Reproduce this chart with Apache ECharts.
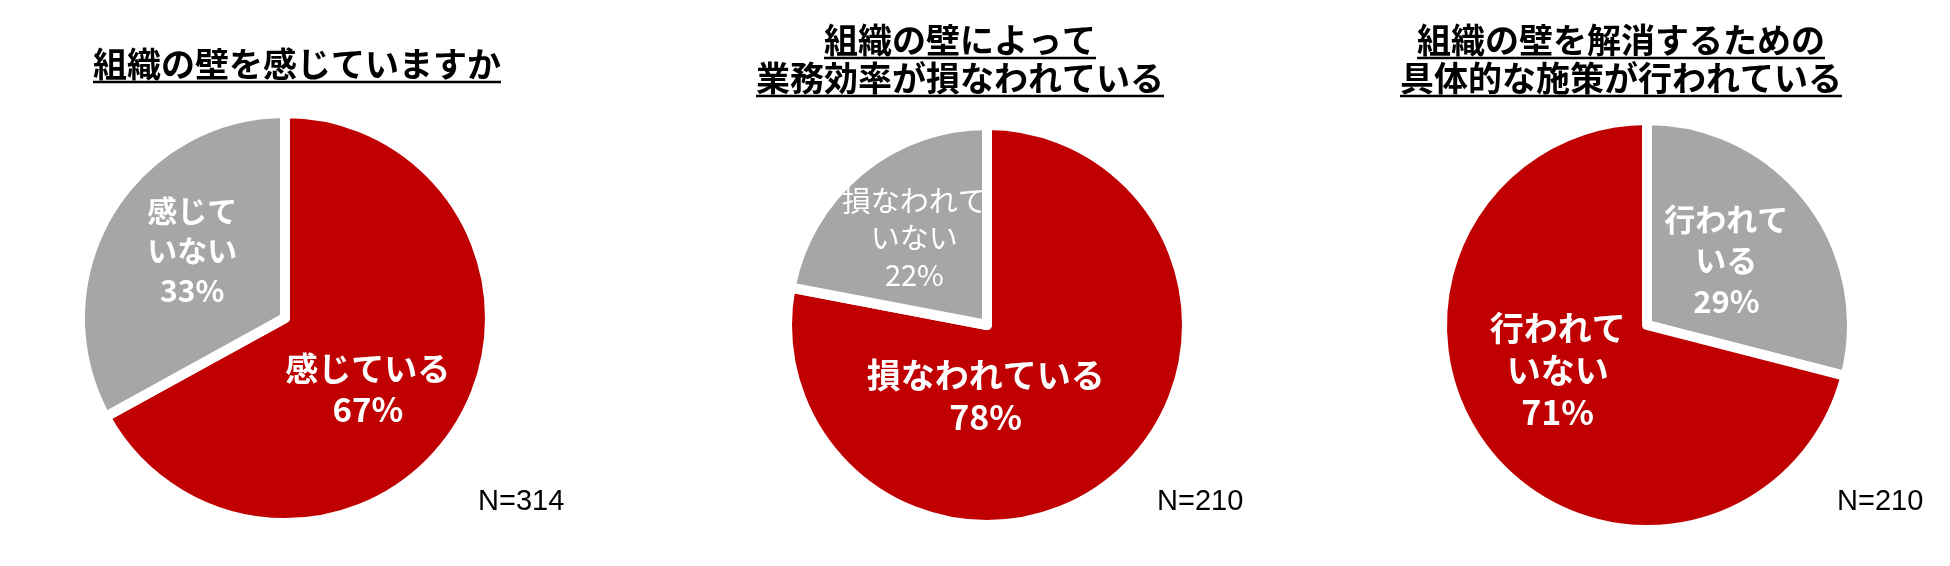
<!DOCTYPE html>
<html>
<head>
<meta charset="utf-8">
<script src="https://cdn.jsdelivr.net/npm/echarts@6/dist/echarts.min.js"></script>
<style>
  html, body { margin: 0; padding: 0; background: #fff; }
  #chart { width: 1950px; height: 566px; }
</style>
</head>
<body>
<div id="chart"></div>
<script>
///////////////////////////////////////////////////
// Data
///////////////////////////////////////////////////

// Q1: 組織の壁を感じていますか
var q1Title = ['組織の壁を感じていますか'];
var q1Names = ['感じている', '感じて\nいない'];
var q1Values = [67, 33];
var q1Count = 'N=314';

// Q2: 組織の壁によって業務効率が損なわれている
var q2Title = ['組織の壁によって', '業務効率が損なわれている'];
var q2Names = ['損なわれている', '損なわれて\nいない'];
var q2Values = [78, 22];
var q2Count = 'N=210';

// Q3: 組織の壁を解消するための具体的な施策が行われている
var q3Title = ['組織の壁を解消するための', '具体的な施策が行われている'];
var q3Names = ['行われて\nいる', '行われて\nいない'];
var q3Values = [29, 71];
var q3Count = 'N=210';

///////////////////////////////////////////////////
// Look
///////////////////////////////////////////////////
var RED = '#C00000';
var GREY = '#A6A6A6';
var JP = '"Noto Sans CJK JP", "Noto Sans", sans-serif';

// colour, label size, weight, line height, offset for each slice
var panels = [
  {
    title: q1Title, names: q1Names, values: q1Values, count: q1Count,
    center: [285, 318], radius: 205, titleX: 297, titleY: [64],
    countX: 478,
    slices: [
      { color: RED, size: 33, weight: 'bold', lh: 41, offset: [-8, 17] },
      { color: GREY, size: 30, weight: 'bold', lh: 40, offset: [-2, -14] }
    ]
  },
  {
    title: q2Title, names: q2Names, values: q2Values, count: q2Count,
    center: [987, 325], radius: 200, titleX: 960, titleY: [40, 78],
    countX: 1157,
    slices: [
      { color: RED, size: 34, weight: 'bold', lh: 42, offset: [-67, -8] },
      { color: GREY, size: 29, weight: 'normal', lh: 37, offset: [-7, -8] }
    ]
  },
  {
    title: q3Title, names: q3Names, values: q3Values, count: q3Count,
    center: [1647, 325], radius: 205, titleX: 1621, titleY: [40, 78],
    countX: 1837,
    slices: [
      { color: GREY, size: 31, weight: 'bold', lh: 41, offset: [-4, 0] },
      { color: RED, size: 34, weight: 'bold', lh: 42, offset: [-6, -20] }
    ]
  }
];

var measureCtx = document.createElement('canvas').getContext('2d');
function textWidth(str, font) {
  measureCtx.font = font;
  return measureCtx.measureText(str).width;
}

///////////////////////////////////////////////////
// Build option
///////////////////////////////////////////////////
var series = [];
var graphics = [];
var TITLE_SIZE = 34;
var titleFont = 'bold ' + TITLE_SIZE + 'px ' + JP;

panels.forEach(function (p) {
  series.push({
    type: 'pie',
    center: p.center,
    radius: p.radius,
    startAngle: 90,
    clockwise: true,
    avoidLabelOverlap: false,
    silent: true,
    itemStyle: { borderColor: '#fff', borderWidth: 10 },
    label: {
      position: 'inside',
      color: '#fff',
      fontFamily: JP,
      formatter: '{b}\n{c}%'
    },
    labelLine: { show: false },
    data: p.values.map(function (v, i) {
      var s = p.slices[i];
      return {
        name: p.names[i],
        value: v,
        itemStyle: { color: s.color },
        label: {
          fontSize: s.size,
          fontWeight: s.weight,
          lineHeight: s.lh,
          offset: s.offset
        }
      };
    })
  });

  // underlined title lines
  p.title.forEach(function (line, k) {
    var y = p.titleY[k];
    var w = textWidth(line, titleFont);
    graphics.push({
      type: 'text',
      x: p.titleX, y: y,
      style: {
        text: line, font: titleFont, fill: '#000',
        align: 'center', verticalAlign: 'middle'
      }
    });
    graphics.push({
      type: 'line',
      shape: { x1: p.titleX - w / 2, y1: y + 18, x2: p.titleX + w / 2, y2: y + 18 },
      style: { stroke: '#000', lineWidth: 2.5 }
    });
  });

  graphics.push({
    type: 'text',
    x: p.countX, y: 502,
    style: {
      text: p.count, font: '29px "Liberation Sans", Arial, sans-serif',
      fill: '#000', align: 'left', verticalAlign: 'middle'
    }
  });
});

var myChart = echarts.init(document.getElementById('chart'), null, { renderer: 'canvas' });
myChart.setOption({
  animation: false,
  backgroundColor: '#fff',
  series: series,
  graphic: graphics
});
</script>
</body>
</html>
